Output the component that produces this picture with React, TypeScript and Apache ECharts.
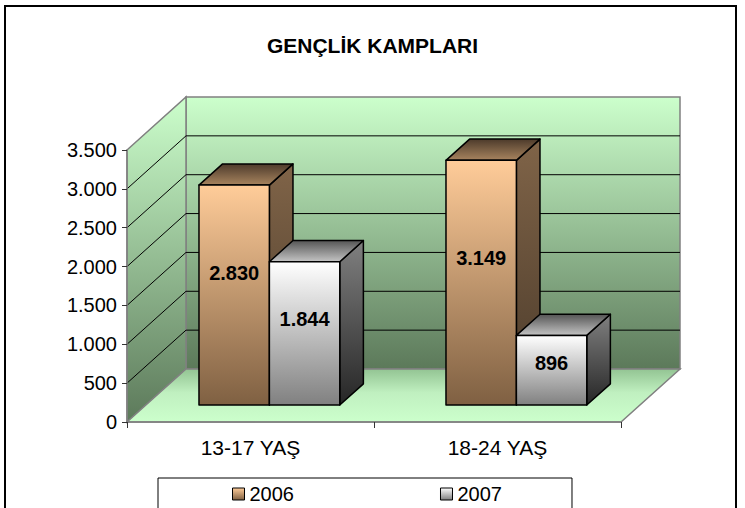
import React, { useEffect, useRef } from "react";
import * as echarts from "echarts";

const chartTitle = "GENÇLİK KAMPLARI";
const categories = ["13-17 YAŞ", "18-24 YAŞ"];
const seriesNames = ["2006", "2007"];
const values2006 = [2830, 3149];
const values2007 = [1844, 896];
const yTicks = [0, 500, 1000, 1500, 2000, 2500, 3000, 3500];

const FONT = "'Liberation Sans', Arial, sans-serif";
const DX = 59;
const DY = -53;
const F1 = 0.32;
const F2 = 0.72;
const BAR_FRAC = 0.285;

const fmt = (v: number) => String(Math.round(v)).replace(/\B(?=(\d{3})+(?!\d))/g, ".");

const lg = (stops: [number, string][], x2 = 0, y2 = 1) =>
  new echarts.graphic.LinearGradient(0, 0, x2, y2, stops.map(([o, c]) => ({ offset: o, color: c })));

const palettes = [
  {
    front: () => lg([[0, "#ffcc99"], [1, "#7f6042"]]),
    side: () => lg([[0, "#806448"], [1, "#4a3a2a"]]),
    top: () => lg([[0, "#4d3b2b"], [1, "#a8845f"]]),
    legend: () => lg([[0, "#ffcc99"], [1, "#7f6042"]]),
  },
  {
    front: () => lg([[0, "#ffffff"], [1, "#808080"]]),
    side: () => lg([[0, "#808080"], [1, "#262626"]]),
    top: () => lg([[0, "#555555"], [1, "#c4c4c4"]]),
    legend: () => lg([[0, "#ffffff"], [1, "#808080"]]),
  },
];

function wallsRender(params: any, api: any) {
  const cs = params.coordSys;
  const x0 = cs.x;
  const x1 = cs.x + cs.width;
  const yt = cs.y;
  const yb = cs.y + cs.height;
  const children: any[] = [];
  children.push({
    type: "polygon",
    shape: { points: [[x0 + DX, yt + DY], [x1 + DX, yt + DY], [x1 + DX, yb + DY], [x0 + DX, yb + DY]] },
    style: { fill: lg([[0, "#ccffcc"], [1, "#5c795a"]]), stroke: "#808080", lineWidth: 1.5 },
  });
  children.push({
    type: "polygon",
    shape: { points: [[x0, yt], [x0 + DX, yt + DY], [x0 + DX, yb + DY], [x0, yb]] },
    style: { fill: lg([[0, "#ccffcc"], [1, "#5c795a"]]), stroke: "#808080", lineWidth: 1.5 },
  });
  children.push({
    type: "polygon",
    shape: { points: [[x0, yb], [x0 + DX, yb + DY], [x1 + DX, yb + DY], [x1, yb]] },
    style: { fill: lg([[0, "#93c493"], [0.45, "#c0f0c0"], [1, "#ccffcc"]]), stroke: "#808080", lineWidth: 1.5 },
  });
  yTicks.forEach((t) => {
    if (t === yTicks[0] || t === yTicks[yTicks.length - 1]) return;
    const y = api.coord([0, t])[1];
    children.push({
      type: "line",
      shape: { x1: x0, y1: y, x2: x0 + DX, y2: y + DY },
      style: { stroke: "#000", lineWidth: 1 },
    });
    children.push({
      type: "line",
      shape: { x1: x0 + DX, y1: y + DY, x2: x1 + DX, y2: y + DY },
      style: { stroke: "#000", lineWidth: 1 },
    });
  });
  return { type: "group", children };
}

function makeBarSeries(name: string, values: number[], idx: number) {
  const pal = palettes[idx];
  return {
    type: "custom",
    name,
    coordinateSystem: "cartesian2d",
    silent: true,
    itemStyle: { color: pal.legend(), borderColor: "#000", borderWidth: 1 },
    data: values.map((v, i) => [i, v]),
    encode: { x: 0, y: 1 },
    renderItem: (params: any, api: any) => {
      const i = api.value(0);
      const v = api.value(1);
      const cs = params.coordSys;
      const band = cs.width / categories.length;
      const c0 = api.coord([i, 0]);
      const cv = api.coord([i, v]);
      const bw = band * BAR_FRAC;
      const xl = c0[0] + (idx - 1) * bw + DX * F1;
      const xr = xl + bw;
      const yb = c0[1] + DY * F1;
      const ytp = cv[1] + DY * F1;
      const ddx = DX * (F2 - F1);
      const ddy = DY * (F2 - F1);
      const st = { stroke: "#000", lineWidth: 1.5, lineJoin: "round" };
      return {
        type: "group",
        children: [
          {
            type: "polygon",
            shape: { points: [[xr, ytp], [xr + ddx, ytp + ddy], [xr + ddx, yb + ddy], [xr, yb]] },
            style: { ...st, fill: pal.side() },
          },
          {
            type: "polygon",
            shape: { points: [[xl, ytp], [xl + ddx, ytp + ddy], [xr + ddx, ytp + ddy], [xr, ytp]] },
            style: { ...st, fill: pal.top() },
          },
          {
            type: "polygon",
            shape: { points: [[xl, ytp], [xr, ytp], [xr, yb], [xl, yb]] },
            style: { ...st, fill: pal.front() },
          },
          {
            type: "text",
            style: {
              text: fmt(v),
              x: (xl + xr) / 2,
              y: yb - (yb - ytp) * 0.6,
              align: "center",
              verticalAlign: "middle",
              font: `bold 20px ${FONT}`,
              fill: "#000",
            },
          },
        ],
      };
    },
  };
}

export default function App() {
  const ref = useRef<HTMLDivElement>(null);
  useEffect(() => {
    if (!ref.current) return;
    const chart = echarts.init(ref.current, undefined, { renderer: "svg" });
    chart.setOption({
      animation: false,
      backgroundColor: "#ffffff",
      title: {
        text: chartTitle,
        left: "center",
        top: 30,
        textStyle: { fontSize: 21, fontWeight: "bold", fontFamily: FONT, color: "#000" },
      },
      graphic: [
        {
          type: "rect",
          shape: { x: 5, y: 6, width: 731, height: 530 },
          style: { fill: "none", stroke: "#000", lineWidth: 2 },
          silent: true,
        },
      ],
      legend: {
        data: seriesNames.map((n, k) => ({
          name: n,
          icon: "rect",
          itemStyle: { color: palettes[k].legend(), borderColor: "#000", borderWidth: 1 },
        })),
        left: 158,
        top: 478,
        padding: [6, 70, 30, 74],
        itemGap: 146,
        itemWidth: 12,
        itemHeight: 12,
        borderColor: "#000",
        borderWidth: 1,
        textStyle: { fontSize: 20, color: "#000", fontFamily: FONT },
      },
      grid: { left: 127, top: 150, width: 494, height: 272, containLabel: false },
      xAxis: {
        type: "category",
        data: categories,
        z: 10,
        axisLine: { lineStyle: { color: "#808080", width: 1.5 } },
        axisTick: { show: true, length: 6, lineStyle: { color: "#333" } },
        axisLabel: { fontSize: 21, color: "#000", fontFamily: FONT, margin: 15 },
        splitLine: { show: false },
      },
      yAxis: {
        type: "value",
        min: yTicks[0],
        max: yTicks[yTicks.length - 1],
        interval: yTicks[1] - yTicks[0],
        z: 10,
        axisLine: { show: true, lineStyle: { color: "#808080", width: 1.5 } },
        axisTick: { show: true, length: 5, lineStyle: { color: "#333" } },
        axisLabel: { fontSize: 20, color: "#000", fontFamily: FONT, margin: 10, formatter: (v: number) => fmt(v) },
        splitLine: { show: false },
      },
      series: [
        {
          type: "custom",
          name: "walls",
          coordinateSystem: "cartesian2d",
          silent: true,
          data: [[0, 0]],
          renderItem: wallsRender,
        },
        makeBarSeries(seriesNames[0], values2006, 0),
        makeBarSeries(seriesNames[1], values2007, 1),
      ],
    });
    return () => chart.dispose();
  }, []);
  return (
    <div
      ref={ref}
      style={{ position: "fixed", left: 0, top: 0, width: 745, height: 508, background: "#fff" }}
    />
  );
}
